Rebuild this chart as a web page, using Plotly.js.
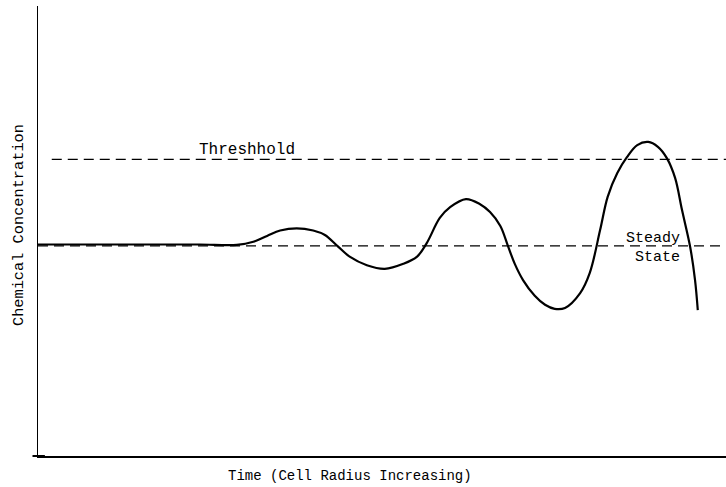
<!DOCTYPE html>
<html>
<head>
<meta charset="utf-8">
<script src="https://cdn.plot.ly/plotly-3.0.1.min.js"></script>
<style>html,body{margin:0;padding:0;background:#fff;}#chart{width:726px;height:487px;}</style>
</head>
<body>
<div id="chart"></div>
<script>
// Time (arbitrary units, 0-100) and chemical concentration (arbitrary units, 0-100)
var timeValues = [0, 9.0, 16.3, 23.5, 28.9, 31.3, 33.3, 35.2, 37.6, 40.0, 41.7, 43.5, 45.3, 47.8, 50.4, 53.1, 55.1, 56.5, 58.4, 59.9, 62.2, 64.2, 65.7, 67.2, 68.3, 69.3, 70.5, 72.2, 73.7, 75.1, 76.6, 78.8, 80.2, 81.7, 82.8, 84.2, 85.6, 87.1, 88.7, 90.1, 91.4, 92.6, 93.6, 94.8, 95.5, 95.9];
var concentration = [47.0, 47.0, 47.0, 47.0, 46.9, 47.6, 48.9, 50.1, 50.6, 50.1, 49.1, 46.7, 44.3, 42.4, 41.6, 42.7, 44.3, 47.3, 52.9, 55.3, 57.1, 56.0, 54.2, 51.1, 46.7, 42.7, 39.1, 35.6, 33.6, 32.7, 32.9, 36.2, 40.7, 50.2, 57.6, 62.9, 66.4, 69.1, 69.8, 68.7, 66.2, 61.8, 54.7, 46.4, 39.1, 32.4];
var thresholdLevel = 65.9;
var thresholdStart = 2.0;
var steadyStateLevel = 46.7;
var xRange = [0, 100];
var yRange = [0, 100];
var labelThreshold = "Threshhold";
var labelSteady = "Steady";
var labelState = "State";
var xTitle = "Time (Cell Radius Increasing)";
var yTitle = "Chemical Concentration";

var fontFam = '"Liberation Mono", "Courier New", monospace';

var traces = [
  {x: [thresholdStart, xRange[1]], y: [thresholdLevel, thresholdLevel], mode: 'lines',
   line: {color: '#000', width: 1.3, dash: '10px,6px'}, hoverinfo: 'skip', showlegend: false},
  {x: [xRange[0], xRange[1]], y: [steadyStateLevel, steadyStateLevel], mode: 'lines',
   line: {color: '#000', width: 1.3, dash: '10px,6px'}, hoverinfo: 'skip', showlegend: false},
  {x: timeValues, y: concentration, mode: 'lines',
   line: {color: '#000', width: 2.2, shape: 'spline', smoothing: 1}, showlegend: false}
];

var layout = {
  width: 726, height: 487,
  margin: {l: 38, r: 0, t: 6, b: 31},
  paper_bgcolor: '#fff', plot_bgcolor: '#fff',
  font: {family: fontFam, color: '#000'},
  xaxis: {range: xRange, showgrid: false, zeroline: false, showticklabels: false, ticks: '',
          showline: true, linecolor: '#000', linewidth: 2, automargin: false},
  yaxis: {range: yRange, showgrid: false, zeroline: false, showticklabels: false, ticks: '',
          showline: true, linecolor: '#000', linewidth: 1.5, automargin: false},
  shapes: [
    {type: 'line', xref: 'paper', yref: 'paper', x0: -0.008, x1: 0.01, y0: 0, y1: 0,
     line: {color: '#000', width: 2}}
  ],
  annotations: [
    {x: 30.4, y: 68.0, xref: 'x', yref: 'y', text: labelThreshold, showarrow: false,
     yanchor: 'middle', font: {family: fontFam, size: 16, color: '#000'}},
    {x: 93.6, y: 48.3, xref: 'x', yref: 'y', text: labelSteady, showarrow: false,
     xanchor: 'right', yanchor: 'middle', font: {family: fontFam, size: 15, color: '#000'}},
    {x: 93.6, y: 44.2, xref: 'x', yref: 'y', text: labelState, showarrow: false,
     xanchor: 'right', yanchor: 'middle', font: {family: fontFam, size: 15, color: '#000'}},
    {x: 0.4535, y: -0.0444, xref: 'paper', yref: 'paper', text: xTitle, showarrow: false,
     xanchor: 'center', yanchor: 'middle', font: {family: fontFam, size: 14, color: '#000'}},
    {x: -0.0276, y: 0.5133, xref: 'paper', yref: 'paper', text: yTitle, showarrow: false,
     textangle: -90, xanchor: 'center', yanchor: 'middle', font: {family: fontFam, size: 15.3, color: '#000'}}
  ]
};

Plotly.newPlot('chart', traces, layout, {staticPlot: true, displayModeBar: false});
</script>
</body>
</html>
